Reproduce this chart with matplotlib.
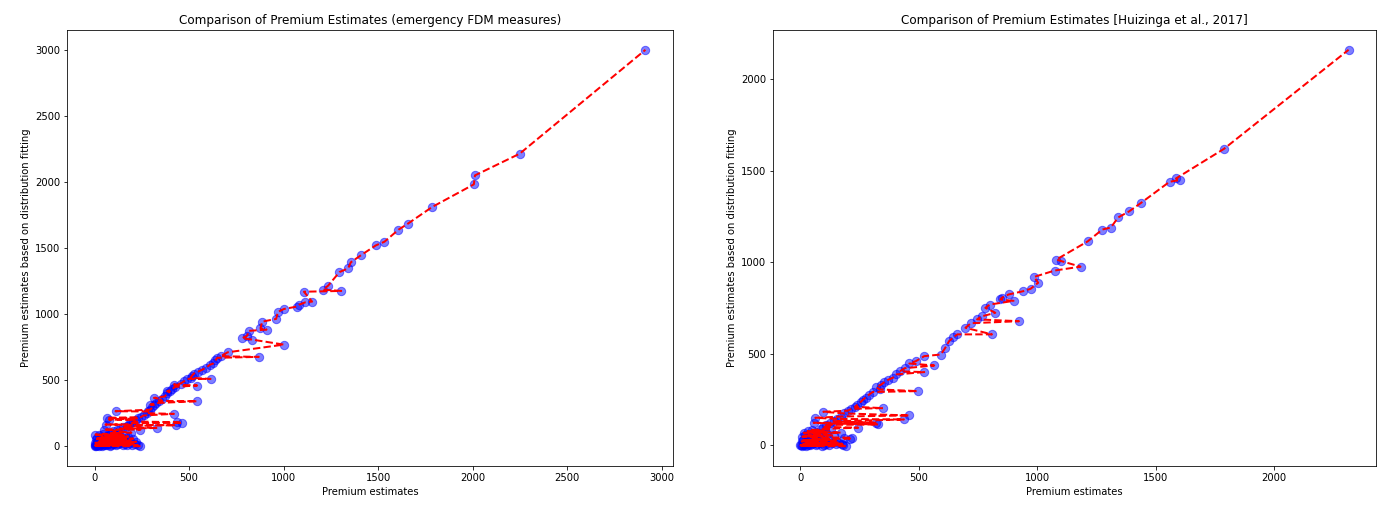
import matplotlib.pyplot as plt
import numpy as np

# Premium estimates vs. distribution-fitting estimates, emergency FDM measures
fdm_x = [0, 3, 6, 10, 14, 18, 22, 27, 32, 38, 44, 50, 57, 64, 72, 80, 88, 97, 105, 115,
         125, 136, 148, 160, 172, 185, 198, 212, 228, 243,
         4, 12, 20, 30, 42, 55, 68, 82, 95, 110, 128, 145, 165, 190, 220,
         6, 15, 28, 40, 52, 66, 78, 92, 108, 125, 150, 178, 205,
         5, 25, 45, 70, 88, 105, 130, 160, 195,
         49, 100, 118, 135, 243, 332, 150, 170, 58, 429, 180, 195, 464, 437, 205,
         76, 218, 230, 67, 245, 420, 260, 111, 275, 285, 296, 305, 296, 315, 325,
         543, 340, 314, 355, 372, 385, 398, 384, 412, 425, 420, 543, 455, 475, 490,
         614, 508, 515, 525, 545, 570, 590, 610, 628, 640, 649, 667, 869, 705, 1002,
         781, 834, 808, 815, 910, 878, 887, 961, 970, 1002, 1069, 1083, 1116, 1151, 1108,
         1305, 1209, 1236, 1296, 1342, 1356, 1411, 1488, 1534, 1608, 1658, 1786, 2007, 2013, 2249,
         2915]
fdm_y = [0, 2, -3, 4, 1, 6, -2, 3, 8, 0, 5, 10, 2, 7, 12, -1, 4, 9, 14, 3,
         8, 16, 5, 11, 2, 19, 7, 13, 4, -5,
         20, 28, 24, 35, 30, 40, 22, 33, 26, 38, 30, 44, 25, 36, 28,
         50, 58, 47, 62, 55, 70, 50, 64, 58, 72, 60, 68, 52,
         83, 78, 88, 82, 95, 85, 92, 80, 98,
         121, 108, 118, 128, 121, 133, 140, 148, 159, 154, 160, 170, 172, 177, 182,
         197, 192, 205, 210, 215, 240, 228, 260, 245, 258, 272, 290, 311, 305, 322,
         336, 338, 361, 352, 372, 395, 410, 411, 428, 445, 462, 455, 470, 488, 505,
         505, 513, 528, 545, 558, 575, 590, 612, 622, 645, 665, 677, 672, 707, 765,
         813, 803, 833, 869, 879, 889, 939, 960, 1013, 1035, 1053, 1068, 1086, 1091, 1166,
         1172, 1182, 1212, 1315, 1343, 1389, 1444, 1517, 1545, 1636, 1682, 1808, 1980, 2048, 2212,
         3000]

# Same comparison using the Huizinga et al. (2017) damage curves
hz_x = [0, 3, 6, 10, 14, 19, 24, 30, 36, 42, 49, 56, 64, 72, 81, 90, 100, 110, 122, 135,
        150, 165, 180, 192, 176,
        5, 12, 22, 33, 45, 58, 72, 88, 105, 125, 150, 185, 216,
        8, 18, 32, 46, 60, 76, 92, 112, 140, 209,
        14, 30, 48, 66, 85, 104, 130, 170,
        56, 95, 244, 110, 125, 328, 321, 140, 437, 63,
        155, 460, 170, 97, 185, 200, 349, 230, 215, 240,
        265, 255, 275, 290, 495, 335, 305, 320, 340, 355,
        372, 391, 405, 523, 420, 440, 565, 460, 488, 523,
        593, 610, 628, 645, 663, 809, 697, 720, 746, 923,
        765, 823, 781, 800, 900, 844, 851, 879, 941, 972,
        1004, 987, 1074, 1183, 1100, 1081, 1213, 1275, 1311, 1342,
        1388, 1439, 1559, 1601, 1586, 1789, 2315]
hz_y = [0, 3, -2, 5, 1, 7, -3, 4, 9, 0, 6, 11, 2, 8, 13, -1, 5, 10, 3, 12,
        6, 15, 2, -4, 9,
        22, 30, 18, 26, 34, 21, 29, 36, 24, 32, 27, 40, 42,
        48, 55, 45, 60, 52, 66, 50, 62, 55, 37,
        69, 78, 85, 74, 90, 80, 88, 70,
        124, 102, 97, 112, 120, 115, 124, 132, 142, 151,
        145, 164, 158, 184, 175, 190, 204, 211, 200, 222,
        251, 238, 262, 278, 297, 306, 292, 318, 332, 346,
        360, 370, 388, 401, 405, 422, 437, 448, 461, 488,
        497, 530, 570, 590, 607, 607, 643, 668, 689, 679,
        705, 725, 752, 770, 790, 798, 807, 825, 843, 856,
        889, 921, 956, 977, 1008, 1016, 1115, 1180, 1191, 1246,
        1279, 1326, 1441, 1450, 1459, 1621, 2162]

titles = ['Comparison of Premium Estimates (emergency FDM measures)',
          'Comparison of Premium Estimates [Huizinga et al., 2017]']

fig, axes = plt.subplots(1, 2, figsize=(1381 / 72, 506 / 72), dpi=72)

for ax, xs, ys, title in zip(axes, [fdm_x, hz_x], [fdm_y, hz_y], titles):
    xs = np.array(xs)
    ys = np.array(ys)
    order = np.argsort(ys)
    ax.scatter(xs, ys, color='blue', alpha=0.5, s=70)
    ax.plot(xs[order], ys[order], 'r--', linewidth=2)
    ax.set_title(title)
    ax.set_xlabel('Premium estimates')
    ax.set_ylabel('Premium estimates based on distribution fitting')

axes[0].set_position([67 / 1381, 40 / 506, 606 / 1381, 436 / 506])
axes[1].set_position([773 / 1381, 40 / 506, 603 / 1381, 436 / 506])

plt.savefig('out.png', dpi=72)
